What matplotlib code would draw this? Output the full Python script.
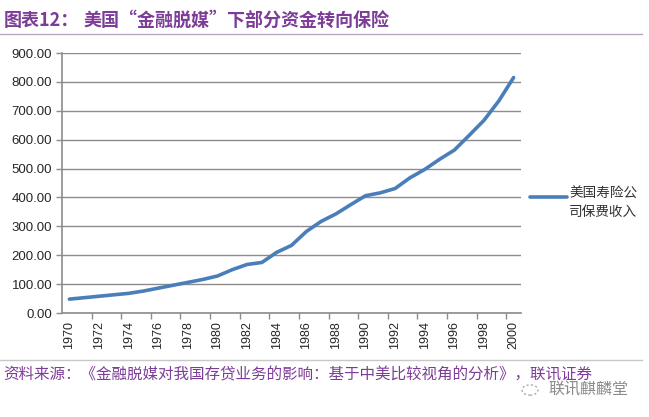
import matplotlib
matplotlib.use("Agg")
import matplotlib.pyplot as plt
from matplotlib.ticker import FixedLocator, FuncFormatter
from matplotlib.patches import Circle

plt.rcParams['font.family'] = ['Noto Sans CJK SC', 'DejaVu Sans']

years = list(range(1970, 2001))
premiums = [48, 53, 58, 63, 68, 76, 86, 96, 106, 116, 128, 150, 168, 175, 210,
            234, 282, 317, 343, 375, 406, 416, 431, 468, 497, 532, 564, 615, 667, 734, 815]
series_name = "美国寿险公\n司保费收入"
title_head = "图表12："
title_body = "美国“金融脱媒”下部分资金转向保险"
source = "资料来源：《金融脱媒对我国存贷业务的影响：基于中美比较视角的分析》，联讯证券"
watermark = "联讯麒麟堂"
yticks = [0, 100, 200, 300, 400, 500, 600, 700, 800, 900]

W, H = 649, 417
fig = plt.figure(figsize=(W/100, H/100), dpi=100)
ax = fig.add_axes([62/W, 1-313/H, (521-62)/W, (313-53)/H])

ax.plot(years, premiums, color='#4A7EBB', linewidth=2.6, solid_capstyle='round',
        solid_joinstyle='round', zorder=3)

ax.set_xlim(1969.5, 2000.5)
ax.set_ylim(0, 900)
ax.set_yticks(yticks)
ax.yaxis.set_major_formatter(FuncFormatter(lambda v, p: f"{v:.2f}"))
ax.grid(axis='y', color='#8c8c8c', linewidth=1.0)
ax.set_axisbelow(True)

ax.xaxis.set_major_locator(FixedLocator(years[::2]))
ax.xaxis.set_minor_locator(FixedLocator([y + 1.5 for y in years[::2][:-1]]))
ax.tick_params(axis='x', which='major', length=0, labelrotation=90, labelsize=9,
               labelcolor='#262626', pad=6)
ax.tick_params(axis='x', which='minor', length=4, color='#8c8c8c', width=1)
ax.tick_params(axis='y', length=4, color='#8c8c8c', width=1, labelsize=9.5,
               labelcolor='#262626', pad=3)
for lab in ax.get_yticklabels() + ax.get_xticklabels():
    lab.set_family(['Liberation Sans'])

for s in ['top', 'right']:
    ax.spines[s].set_visible(False)
for s in ['left', 'bottom']:
    ax.spines[s].set_color('#8c8c8c')
    ax.spines[s].set_linewidth(1.2)

# legend
fig.add_artist(plt.Line2D([530/W, 567/W], [1-197/H, 1-197/H],
                          color='#4A7EBB', linewidth=2.6, solid_capstyle='round'))
fig.text(569/W, 1-203/H, series_name, fontsize=9.8, color='#303030',
         va='center', ha='left', linespacing=1.45)

# title and rules
purple = '#7D3C98'
fig.text(4/W, 1-20/H, title_head, fontsize=13, fontweight='bold', color=purple,
         va='center', ha='left')
fig.text(83/W, 1-20/H, title_body, fontsize=13, fontweight='bold', color=purple,
         va='center', ha='left')
fig.add_artist(plt.Line2D([0, 642/W], [1-34/H, 1-34/H], color='#b7a6c2', linewidth=1))
fig.add_artist(plt.Line2D([0, 642/W], [1-360/H, 1-360/H], color='#c8c8c8', linewidth=1))

fig.text(3/W, 1-375/H, source, fontsize=11.2, style='italic', color=purple,
         va='center', ha='left')
fig.add_artist(Circle((530/W, 1-390/H), 8/W, transform=fig.transFigure, fill=False,
                      edgecolor='#9a9a9a', linestyle=(0, (2, 2)), linewidth=0.8))
fig.text(548/W, 1-389/H, watermark, fontsize=11.5, color='#8a8a8a',
         va='center', ha='left')

fig.savefig('out.png', dpi=100)
